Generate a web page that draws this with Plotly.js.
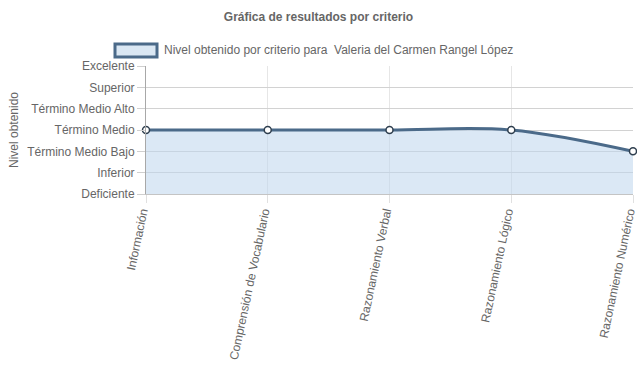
<!DOCTYPE html>
<html>
<head>
<meta charset="utf-8">
<script src="https://cdn.plot.ly/plotly-3.0.1.min.js"></script>
<style>html,body{margin:0;padding:0;background:#fff}#chart{width:637px;height:389px}</style>
</head>
<body>
<div id="chart"></div>
<script>
const categories = ["Información", "Comprensión de Vocabulario", "Razonamiento Verbal", "Razonamiento Lógico", "Razonamiento Numérico"];
const levels = [4, 4, 4, 4, 3];
const levelValues = [1, 2, 3, 4, 5, 6, 7];
const levelLabels = ["Deficiente", "Inferior", "Término Medio Bajo", "Término Medio", "Término Medio Alto", "Superior", "Excelente"];
const seriesName = "Nivel obtenido por criterio para  Valeria del Carmen Rangel López";

const FONT = "'Liberation Sans', Arial, Helvetica, sans-serif";
const TXT = "#666666";

const trace = {
  x: categories,
  y: levels,
  type: "scatter",
  mode: "lines+markers",
  name: seriesName,
  line: {shape: "spline", smoothing: 1, color: "#4b6a89", width: 3},
  marker: {size: 7, color: "#ffffff", line: {color: "#2f3f4f", width: 1.5}},
  fill: "tozeroy",
  fillcolor: "rgba(189,213,236,0.55)",
  cliponaxis: false,
  showlegend: false,
  hoverinfo: "skip"
};

// plot area pixel geometry for legend placement
const L = 146, R = 633, T = 66, B = 194;
const px = v => (v - L) / (R - L);
const py = v => (B - v) / (B - T);

const layout = {
  width: 637, height: 389,
  margin: {l: L, r: 637 - R, t: T, b: 389 - B, pad: 0},
  paper_bgcolor: "#ffffff",
  plot_bgcolor: "#ffffff",
  font: {family: FONT, size: 12, color: TXT},
  title: {text: "<b>Gráfica de resultados por criterio</b>", font: {family: FONT, size: 12, color: TXT}, x: 0.5, xanchor: "center", y: 1 - 17/389, yanchor: "middle"},
  showlegend: false,
  xaxis: {
    type: "category",
    range: [0, categories.length - 1],
    showgrid: true, gridcolor: "#e6e6e6", gridwidth: 1,
    showline: true, linecolor: "#c4c4c4", linewidth: 1,
    ticks: "outside", ticklen: 8, tickcolor: "#e0e0e0",
    tickangle: -78,
    ticklabelshift: -4,
    ticklabelstandoff: -3,
    tickfont: {family: FONT, size: 12, color: TXT},
    zeroline: false, fixedrange: true
  },
  yaxis: {
    range: [1, 7],
    tickvals: levelValues, ticktext: levelLabels,
    showgrid: true, gridcolor: "#d2d2d2", gridwidth: 1,
    showline: true, linecolor: "#a8a8a8", linewidth: 1,
    ticks: "outside", ticklen: 8, tickcolor: "#cfcfcf",
    tickfont: {family: FONT, size: 12, color: TXT},
    title: {text: "Nivel obtenido", font: {family: FONT, size: 12, color: TXT}, standoff: 6},
    zeroline: false, fixedrange: true
  },
  shapes: [{
    type: "rect", xref: "paper", yref: "paper",
    x0: px(115), x1: px(157), y0: py(57), y1: py(44),
    fillcolor: "rgba(218,231,243,1)",
    line: {color: "#4b6a89", width: 3}
  }],
  annotations: [{
    xref: "paper", yref: "paper", x: px(162), y: py(50),
    xanchor: "left", yanchor: "middle", showarrow: false,
    text: seriesName, font: {family: FONT, size: 12, color: TXT}
  }]
};

Plotly.newPlot("chart", [trace], layout, {displayModeBar: false, staticPlot: true});
</script>
</body>
</html>
